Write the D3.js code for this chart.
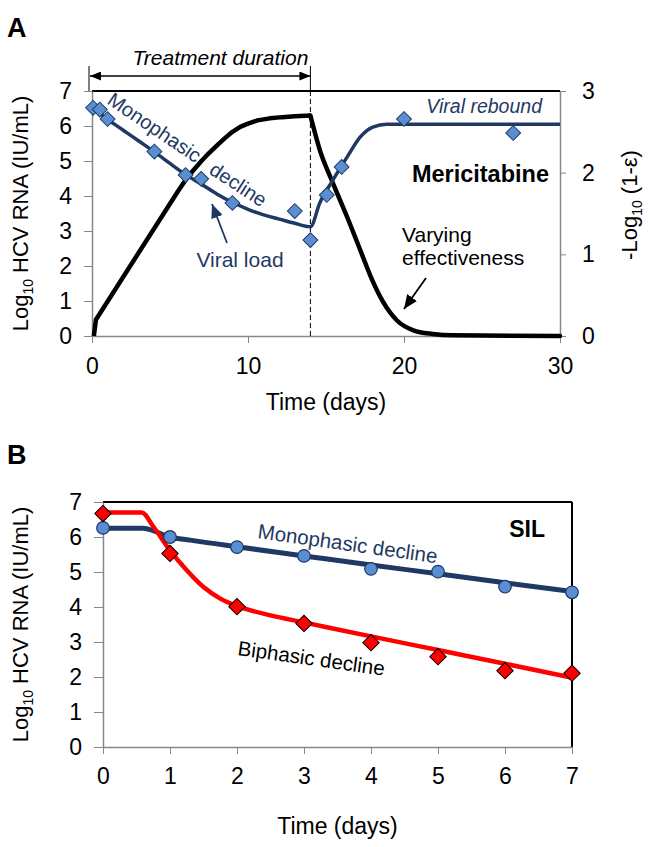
<!DOCTYPE html>
<html>
<head>
<meta charset="utf-8">
<script src="https://cdn.jsdelivr.net/npm/d3@7"></script>
<style>
  html, body { margin: 0; padding: 0; background: #fff; }
  svg { display: block; font-family: "Liberation Sans", Arial, sans-serif; }
</style>
</head>
<body>
<svg id="chart" width="649" height="847"></svg>
<script>
// ---------- Panel A data ----------
const aXTicks = [0, 10, 20, 30];
const aYTicks = [0, 1, 2, 3, 4, 5, 6, 7];
const aY2Ticks = [0, 1, 2, 3];
// observed viral load (day, log10 IU/mL)
const aViralDays   = [0.07, 0.5, 1.0, 4.0, 6.0, 7.0, 9.0, 13.0, 14.0, 15.05, 16.0, 20.0, 27.0];
const aViralValues = [6.52, 6.47, 6.2, 5.27, 4.6, 4.49, 3.8, 3.57, 2.74, 4.03, 4.83, 6.2, 5.8];
// model viral load curve
const aModelDays   = [0, 1, 2, 3, 4, 5, 6, 7, 8, 9, 10, 11, 12, 13, 14, 14.6, 15.45, 16.35, 17.2, 18.0, 18.9, 20, 30];
const aModelValues = [6.55, 6.19, 5.88, 5.57, 5.26, 4.93, 4.61, 4.34, 4.06, 3.82, 3.62, 3.46, 3.34, 3.22, 3.12, 3.8, 4.46, 5.11, 5.69, 5.97, 6.05, 6.05, 6.05];
// effectiveness curve (right axis, -log10(1-eps)): rising (on treatment) and falling (after stop)
const aEffRiseDays   = [0.12, 0.25, 5.5, 6.0, 6.5, 7.0, 7.5, 8.0, 8.5, 9.0, 9.5, 10.0, 10.6, 11.4, 12.2, 13.0, 14.0];
const aEffRiseValues = [0.0, 0.2, 1.77, 1.91, 2.03, 2.14, 2.24, 2.33, 2.42, 2.5, 2.56, 2.6, 2.64, 2.665, 2.68, 2.69, 2.70];
const aEffFallDays   = [14.0, 14.6, 15.45, 16.35, 17.2, 17.95, 18.65, 19.55, 20.6, 21.85, 23.1, 30];
const aEffFallValues = [2.70, 2.28, 1.87, 1.46, 1.05, 0.69, 0.42, 0.19, 0.07, 0.025, 0.008, 0.0];

// ---------- Panel B data ----------
const bXTicks = [0, 1, 2, 3, 4, 5, 6, 7];
const bYTicks = [0, 1, 2, 3, 4, 5, 6, 7];
const bDays = [0, 1, 2, 3, 4, 5, 6, 7];
const bMonoValues = [6.26, 6.0, 5.71, 5.46, 5.09, 5.01, 4.58, 4.42];
const bBiValues   = [6.67, 5.53, 4.01, 3.53, 2.98, 2.58, 2.18, 2.11];
const bMonoCurveDays   = [0, 0.6, 0.75, 0.9, 1.0, 1.3, 2, 3, 4, 5, 6, 7];
const bMonoCurveValues = [6.25, 6.25, 6.18, 6.06, 6.0, 5.91, 5.72, 5.46, 5.2, 4.95, 4.69, 4.44];
const bBiCurveDays   = [0, 0.58, 0.75, 1.0, 1.25, 1.5, 1.75, 2.0, 2.5, 3, 4, 5, 6, 7];
const bBiCurveValues = [6.7, 6.7, 6.3, 5.62, 5.05, 4.57, 4.24, 4.03, 3.76, 3.56, 3.16, 2.77, 2.38, 1.98];

// ---------- styles ----------
const NAVY = "#1F3864";
const LIGHTBLUE = "#5A8ED2";
const GREY = "#868686";
const FONT = "Liberation Sans, Arial, sans-serif";

const svg = d3.select("#chart");
const defs = svg.append("defs");
function arrowMarker(id, color, len, wid) {
  defs.append("marker")
    .attr("id", id).attr("markerUnits", "userSpaceOnUse")
    .attr("viewBox", `0 ${-wid/2} ${len} ${wid}`)
    .attr("refX", len).attr("refY", 0)
    .attr("markerWidth", len).attr("markerHeight", wid)
    .attr("orient", "auto-start-reverse")
    .append("path").attr("d", `M0,${-wid/2}L${len},0L0,${wid/2}Z`).attr("fill", color);
}
arrowMarker("arrBlack", "#000", 11, 9);
arrowMarker("arrNavy", NAVY, 14, 12);
arrowMarker("arrBlackBig", "#000", 14, 12);

function styleAxis(g) {
  g.selectAll(".domain").attr("stroke", GREY).attr("stroke-width", 1.5);
  g.selectAll(".tick line").attr("stroke", GREY).attr("stroke-width", 1);
  g.selectAll(".tick text").attr("fill", "#000").attr("font-size", 23).attr("font-family", FONT);
}
const fmt = d3.format("d");

// ================= PANEL A =================
const xA = d3.scaleLinear().domain([0, 30]).range([92, 560]);
const yA = d3.scaleLinear().domain([0, 7]).range([336, 91]);
const yA2 = d3.scaleLinear().domain([0, 3]).range([336, 91]);

svg.append("text").attr("x", 7).attr("y", 37).attr("font-size", 27).attr("font-weight", "bold").text("A");

// top border
svg.append("line").attr("x1", xA(0)).attr("x2", xA(30)).attr("y1", yA(7)).attr("y2", yA(7))
  .attr("stroke", "#000").attr("stroke-width", 2);

const gAx = svg.append("g").attr("transform", `translate(0,${yA(0)})`)
  .call(d3.axisBottom(xA).tickValues(aXTicks).tickFormat(fmt).tickSize(7).tickPadding(15).tickSizeOuter(0));
styleAxis(gAx);
const gAy = svg.append("g").attr("transform", `translate(${xA(0)},0)`)
  .call(d3.axisLeft(yA).tickValues(aYTicks).tickFormat(fmt).tickSize(8).tickPadding(12).tickSizeOuter(0));
styleAxis(gAy);
const gAy2 = svg.append("g").attr("transform", `translate(${xA(30)},0)`)
  .call(d3.axisRight(yA2).tickValues(aY2Ticks).tickFormat(fmt).tickSize(6).tickPadding(16).tickSizeOuter(0));
styleAxis(gAy2);

// treatment duration dashed line + arrow
svg.append("line").attr("x1", xA(14)).attr("x2", xA(14)).attr("y1", yA(7)).attr("y2", yA(0))
  .attr("stroke", "#000").attr("stroke-width", 1).attr("stroke-dasharray", "5,3");
svg.append("line").attr("x1", xA(14)).attr("x2", xA(14)).attr("y1", 66).attr("y2", yA(7))
  .attr("stroke", "#000").attr("stroke-width", 1);
svg.append("line").attr("x1", xA(0) - 3).attr("x2", xA(0) - 3).attr("y1", 66).attr("y2", yA(7))
  .attr("stroke", "#000").attr("stroke-width", 1);
svg.append("line").attr("x1", xA(0) - 2).attr("x2", xA(14)).attr("y1", 76).attr("y2", 76)
  .attr("stroke", "#000").attr("stroke-width", 1.5)
  .attr("marker-start", "url(#arrBlack)").attr("marker-end", "url(#arrBlack)");
svg.append("text").attr("x", xA(14) - 2).attr("y", 65).attr("text-anchor", "end")
  .attr("font-size", 21).attr("font-style", "italic").text("Treatment duration");

// effectiveness curve (two pieces meeting at the treatment stop)
const effRiseLine = d3.line().x(d => xA(d[0])).y(d => yA2(d[1])).curve(d3.curveLinear);
const effFallLine = d3.line().x(d => xA(d[0])).y(d => yA2(d[1])).curve(d3.curveMonotoneX);
svg.append("path").datum(aEffRiseDays.map((d, i) => [d, aEffRiseValues[i]]))
  .attr("d", effRiseLine)
  .attr("fill", "none").attr("stroke", "#000").attr("stroke-width", 4.5)
  .attr("stroke-linejoin", "round");
svg.append("path").datum(aEffFallDays.map((d, i) => [d, aEffFallValues[i]]))
  .attr("d", effFallLine)
  .attr("fill", "none").attr("stroke", "#000").attr("stroke-width", 4.5)
  .attr("stroke-linejoin", "round").attr("stroke-linecap", "round");

// model viral load
const modelData = aModelDays.map((d, i) => [d, aModelValues[i]]);
svg.append("path").datum(modelData)
  .attr("d", d3.line().x(d => xA(d[0])).y(d => yA(d[1])).curve(d3.curveMonotoneX))
  .attr("fill", "none").attr("stroke", NAVY).attr("stroke-width", 3.5);

// observed diamonds
const viralData = aViralDays.map((d, i) => [d, aViralValues[i]]);
svg.append("g").selectAll("path").data(viralData).join("path")
  .attr("d", d3.symbol(d3.symbolSquare, 110))
  .attr("transform", d => `translate(${xA(d[0])},${yA(d[1])}) rotate(45)`)
  .attr("fill", LIGHTBLUE).attr("stroke", NAVY).attr("stroke-width", 1);

// annotations A
svg.append("text").attr("transform", "translate(106,103) rotate(34)")
  .attr("font-size", 20).attr("fill", NAVY).text("Monophasic");
svg.append("text").attr("transform", "translate(208,173) rotate(33)")
  .attr("font-size", 20).attr("fill", NAVY).text("decline");
svg.append("line").attr("x1", 227).attr("y1", 243).attr("x2", 212).attr("y2", 204)
  .attr("stroke", NAVY).attr("stroke-width", 1.8).attr("marker-end", "url(#arrNavy)");
svg.append("text").attr("x", 240).attr("y", 267).attr("text-anchor", "middle")
  .attr("font-size", 21).attr("fill", NAVY).text("Viral load");
svg.append("text").attr("x", 542).attr("y", 113).attr("text-anchor", "end")
  .attr("font-size", 19.5).attr("font-style", "italic").attr("fill", NAVY).text("Viral rebound");
svg.append("text").attr("x", 549).attr("y", 182).attr("text-anchor", "end")
  .attr("font-size", 23.5).attr("font-weight", "bold").text("Mericitabine");
svg.append("text").attr("x", 402).attr("y", 242).attr("font-size", 21).text("Varying");
svg.append("text").attr("x", 402).attr("y", 265).attr("font-size", 21).text("effectiveness");
svg.append("line").attr("x1", 426).attr("y1", 278).attr("x2", 404).attr("y2", 309)
  .attr("stroke", "#000").attr("stroke-width", 1.8).attr("marker-end", "url(#arrBlackBig)");

// axis titles A
const titleA = svg.append("text").attr("transform", `translate(28,${(yA(0) + yA(7)) / 2}) rotate(-90)`)
  .attr("text-anchor", "middle").attr("font-size", 22);
titleA.append("tspan").text("Log");
titleA.append("tspan").attr("font-size", 14).attr("dy", 5).text("10");
titleA.append("tspan").attr("dy", -5).text(" HCV RNA (IU/mL)");

const titleA2 = svg.append("text").attr("transform", `translate(637,205) rotate(-90)`)
  .attr("text-anchor", "middle").attr("font-size", 22);
titleA2.append("tspan").text("-Log");
titleA2.append("tspan").attr("font-size", 14).attr("dy", 5).text("10");
titleA2.append("tspan").attr("dy", -5).text(" (1-ε)");

svg.append("text").attr("x", (xA(0) + xA(30)) / 2).attr("y", 410).attr("text-anchor", "middle")
  .attr("font-size", 23).text("Time (days)");

// ================= PANEL B =================
const xB = d3.scaleLinear().domain([0, 7]).range([103, 572]);
const yB = d3.scaleLinear().domain([0, 7]).range([747, 502]);

svg.append("text").attr("x", 7).attr("y", 464).attr("font-size", 27).attr("font-weight", "bold").text("B");

svg.append("line").attr("x1", xB(0)).attr("x2", xB(7)).attr("y1", yB(7)).attr("y2", yB(7))
  .attr("stroke", "#000").attr("stroke-width", 2);
svg.append("line").attr("x1", xB(7)).attr("x2", xB(7)).attr("y1", yB(7)).attr("y2", yB(0))
  .attr("stroke", "#000").attr("stroke-width", 2);

const gBx = svg.append("g").attr("transform", `translate(0,${yB(0)})`)
  .call(d3.axisBottom(xB).tickValues(bXTicks).tickFormat(fmt).tickSize(7).tickPadding(14).tickSizeOuter(0));
styleAxis(gBx);
const gBy = svg.append("g").attr("transform", `translate(${xB(0)},0)`)
  .call(d3.axisLeft(yB).tickValues(bYTicks).tickFormat(fmt).tickSize(9).tickPadding(12).tickSizeOuter(0));
styleAxis(gBy);

const lineB = d3.line().x(d => xB(d[0])).y(d => yB(d[1])).curve(d3.curveMonotoneX);
svg.append("path").datum(bMonoCurveDays.map((d, i) => [d, bMonoCurveValues[i]]))
  .attr("d", lineB).attr("fill", "none").attr("stroke", NAVY).attr("stroke-width", 5);
svg.append("path").datum(bBiCurveDays.map((d, i) => [d, bBiCurveValues[i]]))
  .attr("d", lineB).attr("fill", "none").attr("stroke", "#FF0000").attr("stroke-width", 4.5);

svg.append("g").selectAll("circle").data(bDays.map((d, i) => [d, bMonoValues[i]])).join("circle")
  .attr("cx", d => xB(d[0])).attr("cy", d => yB(d[1])).attr("r", 6.3)
  .attr("fill", LIGHTBLUE).attr("stroke", NAVY).attr("stroke-width", 1.2);
svg.append("g").selectAll("path").data(bDays.map((d, i) => [d, bBiValues[i]])).join("path")
  .attr("d", d3.symbol(d3.symbolSquare, 135))
  .attr("transform", d => `translate(${xB(d[0])},${yB(d[1])}) rotate(45)`)
  .attr("fill", "#FF0000").attr("stroke", "#000").attr("stroke-width", 1);

svg.append("text").attr("transform", "translate(257,538) rotate(8)")
  .attr("font-size", 20.5).attr("fill", NAVY).text("Monophasic decline");
svg.append("text").attr("transform", "translate(237,655) rotate(8)")
  .attr("font-size", 20.5).attr("fill", "#000").text("Biphasic decline");
svg.append("text").attr("x", 545).attr("y", 537).attr("text-anchor", "end")
  .attr("font-size", 23).attr("font-weight", "bold").text("SIL");

const titleB = svg.append("text").attr("transform", `translate(28,${(yB(0) + yB(7)) / 2}) rotate(-90)`)
  .attr("text-anchor", "middle").attr("font-size", 22);
titleB.append("tspan").text("Log");
titleB.append("tspan").attr("font-size", 14).attr("dy", 5).text("10");
titleB.append("tspan").attr("dy", -5).text(" HCV RNA (IU/mL)");

svg.append("text").attr("x", (xB(0) + xB(7)) / 2).attr("y", 834).attr("text-anchor", "middle")
  .attr("font-size", 23).text("Time (days)");
</script>
</body>
</html>
